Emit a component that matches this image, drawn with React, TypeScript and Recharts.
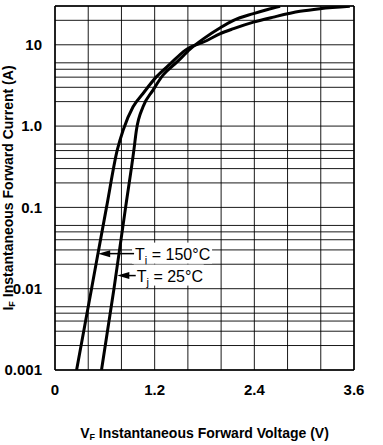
import { CartesianGrid, Label, Line, LineChart, ReferenceLine, XAxis, YAxis } from 'recharts'

// Tj = 150°C curve
const v150 = [0.26, 0.44, 0.62, 0.75, 0.82, 0.94, 1.06, 1.22, 1.39, 1.57, 1.83, 1.99, 2.15, 2.39, 2.63, 2.95, 3.19, 3.55]
const i150 = [0.001, 0.01, 0.1, 0.51, 0.89, 1.73, 2.52, 4.03, 5.87, 8.6, 11.3, 13.7, 15.8, 19.0, 21.9, 25.8, 27.8, 29.8]

// Tj = 25°C curve
const v25 = [0.56, 0.71, 0.85, 0.95, 0.98, 1.06, 1.18, 1.3, 1.47, 1.63, 1.79, 1.99, 2.15, 2.39, 2.55, 2.71]
const i25 = [0.001, 0.01, 0.1, 0.51, 0.89, 1.73, 2.77, 4.23, 6.16, 8.9, 11.9, 16.2, 20.0, 24.2, 27.0, 29.8]

const xTicks = [0, 1.2, 2.4, 3.6]
const xGrid = [0, 0.4, 0.8, 1.2, 1.6, 2.0, 2.4, 2.8, 3.2, 3.6]
const yTicks = [0.001, 0.01, 0.1, 1, 10]
const yTickLabels = ['0.001', '0.01', '0.1', '1.0', '10']
const decades = [0.001, 0.01, 0.1, 1, 10]
const mantissas = [1, 2, 3, 4, 5, 6, 7, 8, 9]
const yGrid = [...decades.flatMap((d) => mantissas.map((m) => +(d * m).toPrecision(3))), 20, 30]

const tempLabels = ['150°C', '25°C']
const noteI = [0.027, 0.0145]
const noteTipV = [0.52, 0.75]
const noteTailV = [0.94, 0.96]

const s150 = v150.map((v, k) => ({ v, i: i150[k] }))
const s25 = v25.map((v, k) => ({ v, i: i25[k] }))

const FONT = 'Liberation Sans, Arial, sans-serif'

function arrowNote(temp: string) {
  return (p: any) => {
    const { x1, y1, x2 } = p
    const y = y1
    const w = temp.length > 4 ? 80 : 70
    return (
      <g>
        <rect x={x2 - 1} y={y - 11} width={w} height={21} fill="#fff" />
        <line x1={x1 + 10} y1={y} x2={x2 + 1} y2={y} stroke="#000" strokeWidth={1.5} />
        <polygon points={`${x1},${y} ${x1 + 12},${y - 3.5} ${x1 + 12},${y + 3.5}`} fill="#000" />
        <text x={x2 + 2} y={y + 6} fontSize={16} fontFamily={FONT} fill="#000">
          <tspan>T</tspan>
          <tspan fontSize={11} dy={4}>j</tspan>
          <tspan dy={-4}>{` = ${temp}`}</tspan>
        </text>
      </g>
    )
  }
}

const tickStyle = { fontSize: 15, fontWeight: 700, fill: '#000', fontFamily: FONT }

export default function App() {
  return (
    <div style={{ position: 'absolute', left: 0, top: 0, width: 383, height: 445, background: '#fff' }}>
      <LineChart width={383} height={445} margin={{ top: 6, right: 29, left: 0, bottom: 35 }}>
        <CartesianGrid
          stroke="#000"
          strokeWidth={1}
          horizontalValues={yGrid}
          verticalValues={xGrid}
          strokeOpacity={0.9}
        />
        <XAxis
          type="number"
          dataKey="v"
          domain={[0, 3.6]}
          ticks={xTicks}
          tickFormatter={(t: number) => (t === 0 ? '0' : t.toFixed(1))}
          tickLine={false}
          axisLine={{ stroke: '#000', strokeWidth: 1.5 }}
          tickMargin={8}
          tick={tickStyle}
          height={40}
          allowDataOverflow
        >
          <Label
            content={(props: any) => {
              const vb = props.viewBox
              return (
                <text
                  x={vb.x + vb.width / 2 - 0}
                  y={vb.y + 68}
                  textAnchor="middle"
                  fontSize={14}
                  fontWeight={700}
                  fontFamily={FONT}
                  fill="#000"
                >
                  <tspan>V</tspan>
                  <tspan fontSize={9} dy={2}>F</tspan>
                  <tspan dy={-2}>{'  Instantaneous Forward Voltage (V)'}</tspan>
                </text>
              )
            }}
          />
        </XAxis>
        <YAxis
          type="number"
          dataKey="i"
          scale="log"
          domain={[0.001, 30]}
          ticks={yTicks}
          tickFormatter={(t: number) => yTickLabels[yTicks.indexOf(t)] ?? ''}
          tickLine={false}
          axisLine={{ stroke: '#000', strokeWidth: 1.5 }}
          tickMargin={7}
          tick={tickStyle}
          width={55}
          allowDataOverflow
        >
          <Label
            content={(props: any) => {
              const vb = props.viewBox
              const cx = 13
              const cy = vb.y + vb.height / 2
              return (
                <text
                  x={cx}
                  y={cy}
                  transform={`rotate(-90 ${cx} ${cy})`}
                  textAnchor="middle"
                  fontSize={14}
                  fontWeight={700}
                  fontFamily={FONT}
                  fill="#000"
                >
                  <tspan>I</tspan>
                  <tspan fontSize={9} dy={2}>F</tspan>
                  <tspan dy={-2}>{' Instantaneous Forward Current (A)'}</tspan>
                </text>
              )
            }}
          />
        </YAxis>
        <ReferenceLine y={30} stroke="#000" strokeWidth={1.5} />
        <ReferenceLine x={3.6} stroke="#000" strokeWidth={1.5} />
        {tempLabels.map((t, k) => (
          <ReferenceLine
            key={t}
            segment={[
              { x: noteTipV[k], y: noteI[k] },
              { x: noteTailV[k], y: noteI[k] },
            ]}
            shape={arrowNote(t)}
          />
        ))}
        <Line data={s150} dataKey="i" type="monotone" stroke="#000" strokeWidth={3} dot={false} isAnimationActive={false} />
        <Line data={s25} dataKey="i" type="monotone" stroke="#000" strokeWidth={3} dot={false} isAnimationActive={false} />
      </LineChart>
    </div>
  )
}
